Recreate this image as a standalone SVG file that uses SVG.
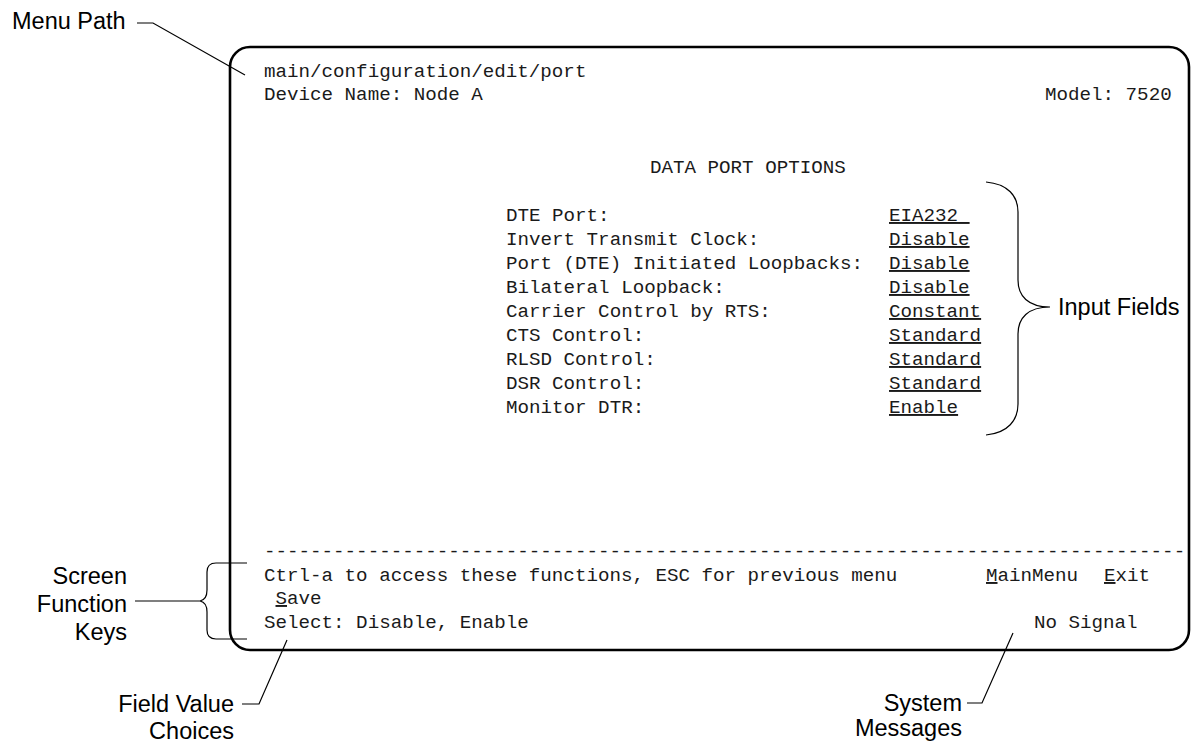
<svg xmlns="http://www.w3.org/2000/svg" width="1191" height="742" viewBox="0 0 1191 742">
<style>
.m{font-family:"Liberation Mono","Courier New",monospace;font-size:19.2px;fill:#1a1a1a}
.u{text-decoration:underline}
.a{font-family:"Liberation Sans",Arial,sans-serif;font-size:23.5px;fill:#000}
.ln{fill:none;stroke:#000;stroke-width:1.2}
</style>
<rect width="1191" height="742" fill="#fff"/>
<g id="screen">
<rect x="230" y="47" width="959" height="603" rx="20" ry="20" fill="none" stroke="#000" stroke-width="2.6"/>
<text class="m" x="264" y="77">main/configuration/edit/port</text>
<text class="m" x="264" y="100">Device Name: Node A</text>
<text class="m" x="1045" y="100">Model: 7520</text>
<text class="m" x="650" y="173">DATA PORT OPTIONS</text>
<g id="fields">
<text class="m" x="506" y="221">DTE Port:</text>
<text class="m" x="506" y="245">Invert Transmit Clock:</text>
<text class="m" x="506" y="269">Port (DTE) Initiated Loopbacks:</text>
<text class="m" x="506" y="293">Bilateral Loopback:</text>
<text class="m" x="506" y="317">Carrier Control by RTS:</text>
<text class="m" x="506" y="341">CTS Control:</text>
<text class="m" x="506" y="365">RLSD Control:</text>
<text class="m" x="506" y="389">DSR Control:</text>
<text class="m" x="506" y="413">Monitor DTR:</text>
<text class="m u" x="889" y="221">EIA232&#160;</text>
<text class="m u" x="889" y="245">Disable</text>
<text class="m u" x="889" y="269">Disable</text>
<text class="m u" x="889" y="293">Disable</text>
<text class="m u" x="889" y="317">Constant</text>
<text class="m u" x="889" y="341">Standard</text>
<text class="m u" x="889" y="365">Standard</text>
<text class="m u" x="889" y="389">Standard</text>
<text class="m u" x="889" y="413">Enable</text>
</g>
<text class="m" x="264" y="557">--------------------------------------------------------------------------------</text>
<text class="m" x="264" y="581">Ctrl-a to access these functions, ESC for previous menu</text>
<text class="m" x="986" y="581"><tspan class="u">M</tspan>ainMenu</text>
<text class="m" x="1104" y="581"><tspan class="u">E</tspan>xit</text>
<text class="m" x="275.5" y="604"><tspan class="u">S</tspan>ave</text>
<text class="m" x="264" y="628">Select: Disable, Enable</text>
<text class="m" x="1034" y="628">No Signal</text>
</g>
<g id="connectors">
<path class="ln" d="M137 23 L153 23 L245 75"/>
<path class="ln" d="M986 182 C1008 184 1018 196 1018 212 L1018 280 C1018 296 1028 307 1050 307 M1050 307 C1028 307 1018 318 1018 334 L1018 404 C1018 420 1008 433 986 435"/>
<path class="ln" d="M135 601 L200 601 C205 600 207 596 207 590 L207 572 C207 566 210 563 216 563 L247 563 M200 601 C205 602 207 606 207 612 L207 630 C207 636 210 639 216 639 L247 639"/>
<path class="ln" d="M242 704 L259 704 L287 640"/>
<path class="ln" d="M967 703 L982 703 L1013 633"/>
</g>
<g id="label-menu-path"><text class="a" x="12" y="29">Menu Path</text></g>
<g id="label-input-fields"><text class="a" x="1058" y="315">Input Fields</text></g>
<g id="label-screen-function-keys">
<text class="a" x="127" y="584" text-anchor="end">Screen</text>
<text class="a" x="127" y="612" text-anchor="end">Function</text>
<text class="a" x="127" y="640" text-anchor="end">Keys</text>
</g>
<g id="label-field-value-choices">
<text class="a" x="234" y="712" text-anchor="end">Field Value</text>
<text class="a" x="234" y="739" text-anchor="end">Choices</text>
</g>
<g id="label-system-messages">
<text class="a" x="962" y="711" text-anchor="end">System</text>
<text class="a" x="962" y="736" text-anchor="end">Messages</text>
</g>
</svg>
